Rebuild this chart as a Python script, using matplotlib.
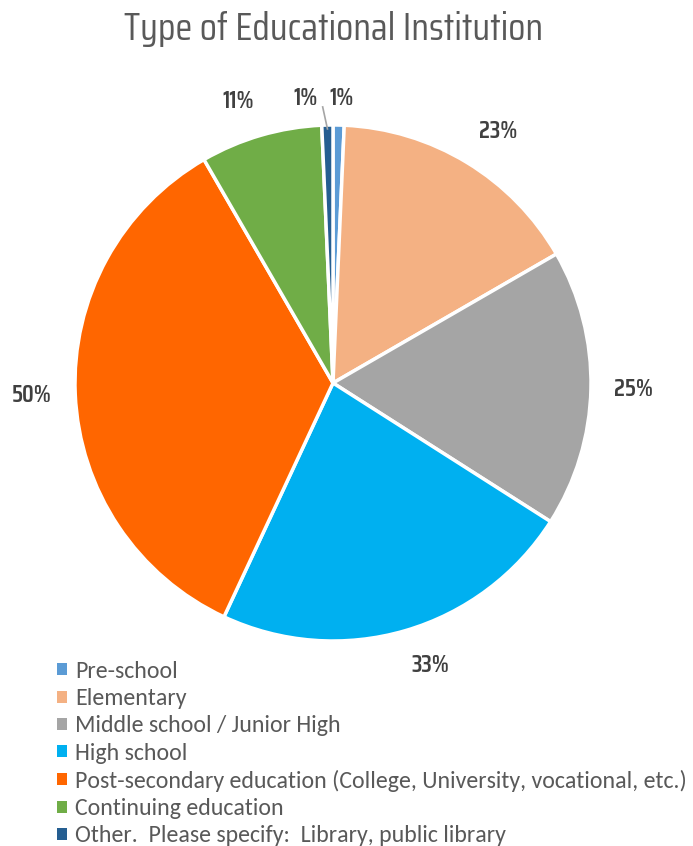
import matplotlib
matplotlib.use('Agg')
import matplotlib.pyplot as plt
from matplotlib.patches import Patch
import numpy as np

categories = ["Pre-school", "Elementary", "Middle school / Junior High", "High school",
              "Post-secondary education (College, University, vocational, etc.)",
              "Continuing education", "Other.  Please specify:  Library, public library"]
values = [1, 23, 25, 33, 50, 11, 1]
colors = ["#5B9BD5", "#F4B183", "#A5A5A5", "#00B0F0", "#FF6600", "#70AD47", "#255E91"]

narrow = ['Saira Condensed', 'Barlow Semi Condensed', 'DejaVu Sans']
body = ['Carlito', 'Lato', 'DejaVu Sans']

W, H = 693, 846
fig = plt.figure(figsize=(W / 100, H / 100), dpi=100)

# pie centre and radius in pixels
cx, cy, rad = 333, 383, 258
ax = fig.add_axes([(cx - rad) / W, (H - cy - rad) / H, 2 * rad / W, 2 * rad / H])
wedges, _ = ax.pie(values, colors=colors, startangle=90, counterclock=False, radius=1,
                   wedgeprops=dict(edgecolor='white', linewidth=2.5))
ax.set_xlim(-1, 1)
ax.set_ylim(-1, 1)
ax.set_aspect('equal')
ax.axis('off')

# percentage labels, outside end: the box corner sits on a ring just outside the pie
ring = 1.09
for i, (w, v) in enumerate(zip(wedges, values)):
    mid = np.deg2rad((w.theta1 + w.theta2) / 2)
    x, y = ring * np.cos(mid), ring * np.sin(mid)
    ha = 'left' if x > 0.05 else ('right' if x < -0.05 else 'center')
    va = 'center' if abs(y) < 0.35 else ('bottom' if y > 0 else 'top')
    if abs(x) < 0.05:
        # tiny slices at the top
        x, y, va = 1.105 * np.cos(mid), 1.105 * np.sin(mid), 'center'
    if i == len(values) - 1:
        # label pushed left, joined by a leader line
        ax.plot([np.cos(mid) * 0.985, -0.04], [np.sin(mid) * 0.985, 1.07],
                color='#A5A5A5', lw=1.2, clip_on=False)
        x = -0.105
    elif i == 0:
        x += 0.01
    ax.text(x, y, f"{v}%", ha=ha, va=va, fontsize=17.5, color='#404040',
            family=narrow, fontweight='semibold', clip_on=False)

fig.text(334 / W, 1 - 29 / H, "Type of Educational Institution", ha='center', va='center',
         fontsize=28, color='#595959', family=narrow)

handles = [Patch(facecolor=c, edgecolor='none') for c in colors]
fig.legend(handles, categories, loc='upper left', bbox_to_anchor=(57 / W, 1 - 661 / H),
           frameon=False, labelcolor='#595959', handlelength=0.4,
           handleheight=0.4, handletextpad=0.35, labelspacing=0.26, borderpad=0,
           borderaxespad=0, prop=dict(family=body, size=17.2))

fig.savefig('out.png', dpi=100)
